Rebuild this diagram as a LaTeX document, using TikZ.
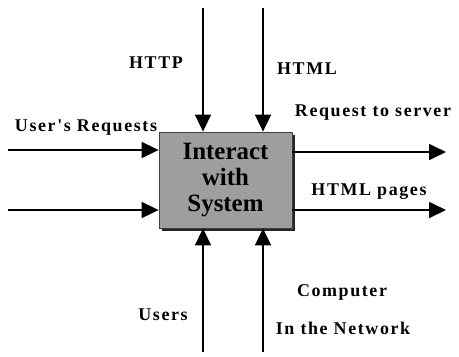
\documentclass[tikz,border=0pt]{standalone}
\usepackage{fontspec}
\setmainfont{Liberation Serif}
\newfontfamily\labfont[LetterSpace=9]{Liberation Serif}
\usetikzlibrary{arrows.meta,shadows}

\tikzset{
  flow/.style={line width=1.7bp, -{Triangle[length=17bp,width=16bp]}},
  lab/.style={font=\labfont\bfseries\fontsize{18}{21}\selectfont, inner sep=0pt},
  process/.style={draw=black!75, line width=0.8bp, fill=black!38,
    minimum width=133bp, minimum height=96bp, inner sep=0pt,
    drop shadow={shadow xshift=2.5bp, shadow yshift=-2.5bp, fill=black!85, opacity=1},
    font=\bfseries\fontsize{25}{26}\selectfont, align=center}
}

\begin{document}
\begin{tikzpicture}[x=1bp,y=-1bp]
\useasboundingbox (0,0) rectangle (459,356);

% the activity box
\node[process] (sys) at (225.5,180) {Interact\\with\\System};

% free ends of the connectors
\coordinate (inA) at (8,150);
\coordinate (inB) at (8,210);
\coordinate (ctlA) at (203,8);
\coordinate (ctlB) at (263,8);
\coordinate (outA) at (446,152);
\coordinate (outB) at (446,210);
\coordinate (mecA) at (203,352);
\coordinate (mecB) at (263,352);

% inputs
\draw[flow] (inA) -- (inA -| sys.west);
\draw[flow] (inB) -- (inB -| sys.west);
% controls
\draw[flow] (ctlA) -- (ctlA |- sys.north);
\draw[flow] (ctlB) -- (ctlB |- sys.north);
% outputs
\draw[flow] (outA -| sys.east) -- (outA);
\draw[flow] (outB -| sys.east) -- (outB);
% mechanisms
\draw[flow] (mecA) -- (mecA |- sys.south);
\draw[flow] (mecB) -- (mecB |- sys.south);

% labels
\node[lab] (lHTTP) at (156,63) {HTTP};
\node[lab] (lHTML) at (307,69) {HTML};
\node[lab] (lReq) at (86,128) {User's Requests};
\node[lab] (lSrv) at (373,113) {Request to server};
\node[lab] (lPages) at (369,192) {HTML pages};
\node[lab] (lUsers) at (163,315) {Users};
\node[lab] (lComp) at (342,292) {Computer};
\node[lab] (lNet) at (343,328) {In the Network};
\end{tikzpicture}
\end{document}
